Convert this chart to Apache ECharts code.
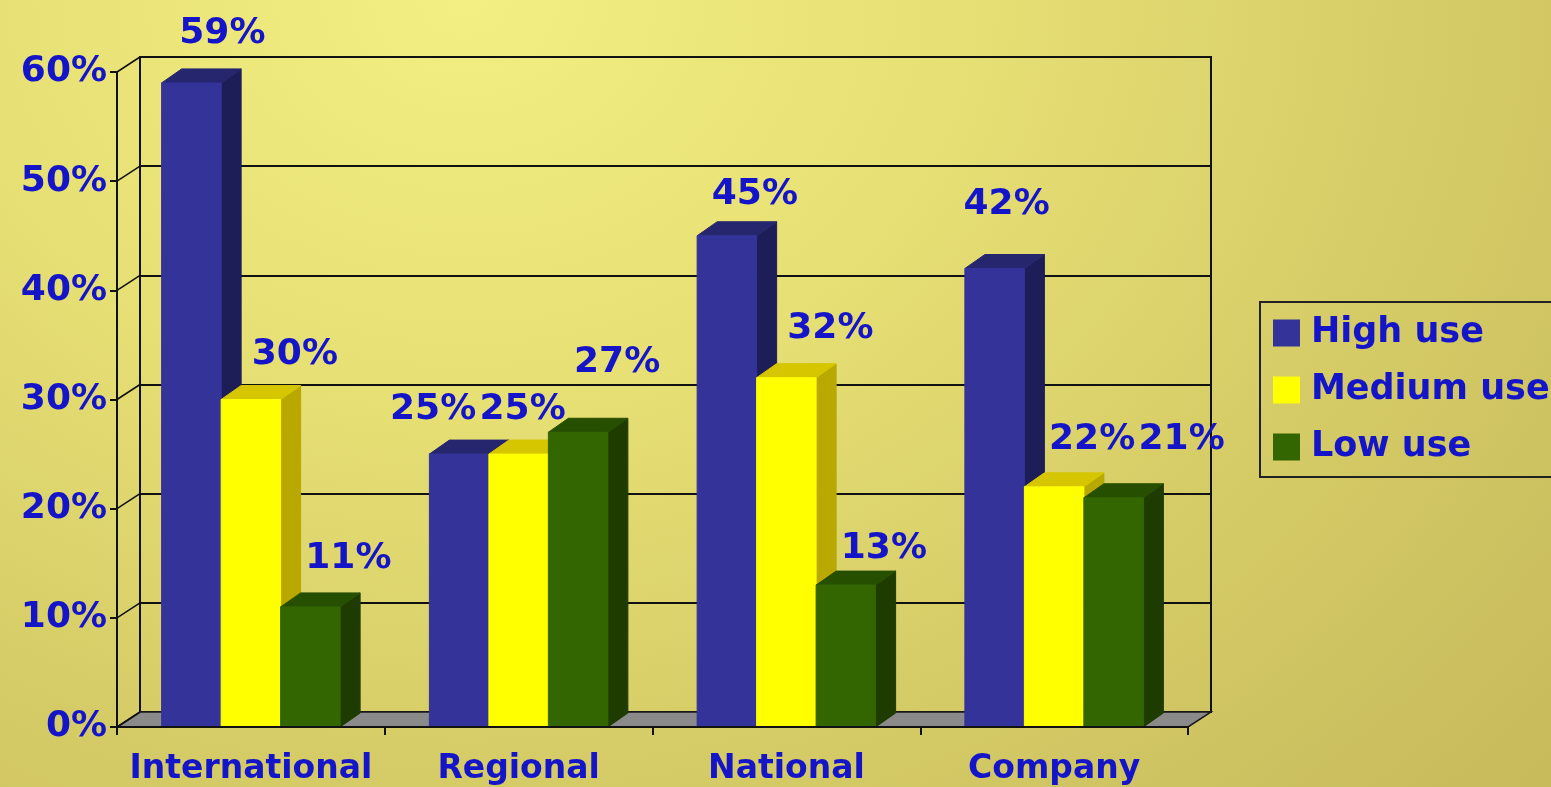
<!DOCTYPE html>
<html>
<head>
<meta charset="utf-8">
<script src="https://cdn.jsdelivr.net/npm/echarts@6/dist/echarts.min.js"></script>
<style>
  html, body { margin: 0; padding: 0; width: 1551px; height: 787px; overflow: hidden; }
  body { background: radial-gradient(ellipse 95% 150% at 30% 0%, #f3ef82 0%, #e6df74 35%, #d3c965 70%, #c6ba5b 100%); }
  #chart { width: 1551px; height: 787px; }
</style>
</head>
<body>
<div id="chart"></div>
<script>
// ---- data ----
const categories = ['International', 'Regional', 'National', 'Company'];
const seriesNames = ['High use', 'Medium use', 'Low use'];
const highUse = [59, 25, 45, 42];
const mediumUse = [30, 25, 32, 22];
const lowUse = [11, 27, 13, 21];
const yTickLabels = ['0%', '10%', '20%', '30%', '40%', '50%', '60%'];

// ---- look & layout ----
const TEXT_BLUE = '#1414c8';
const FONT = '"DejaVu Sans", sans-serif';
const WALL = { dx: 23, dy: 15 };      // depth of the back wall
const BAR_DEPTH = { dx: 20, dy: 14 };  // depth of each 3D bar
const BAR_FRACTION = 0.2222;           // bar width as share of a category band
const faces = [
  { front: '#333399', side: '#1d1d58', top: '#26266f' },
  { front: '#ffff00', side: '#b9a800', top: '#d6c600' },
  { front: '#336600', side: '#1e3b00', top: '#274f00' }
];
// where each value label sits, relative to the top-front centre of its bar
const labelNudge = [
  [[31, -49], [-26, -44], [28, -41], [12, -64]],
  [[44, -45], [4, -44], [44, -49], [38, -47]],
  [[38, -48], [39, -70], [38, -36], [68, -58]]
];

function face(fill) {
  // a hairline in the fill colour closes anti-aliasing seams between faces
  return { fill: fill, stroke: fill, lineWidth: 1 };
}

function barRenderer(s) {
  return function (params, api) {
    const ci = api.value(0);
    const v = api.value(1);
    const base = api.coord([ci, 0]);
    const top = api.coord([ci, v]);
    const band = api.size([1, 0])[0];
    const w = band * BAR_FRACTION;
    const x0 = base[0] - 1.5 * w + s * w;
    const x1 = x0 + w;
    const y0 = base[1];
    const y1 = top[1];
    const dx = BAR_DEPTH.dx, dy = BAR_DEPTH.dy;
    const n = labelNudge[s][ci];
    const f = faces[s];
    return {
      type: 'group',
      children: [
        { type: 'polygon', shape: { points: [[x1, y0], [x1 + dx, y0 - dy], [x1 + dx, y1 - dy], [x1, y1]] }, style: face(f.side) },
        { type: 'polygon', shape: { points: [[x0, y1], [x0 + dx, y1 - dy], [x1 + dx, y1 - dy], [x1, y1]] }, style: face(f.top) },
        { type: 'rect', shape: { x: x0, y: y1, width: w, height: y0 - y1 }, style: face(f.front) },
        {
          type: 'text', x: (x0 + x1) / 2 + n[0], y: y1 + n[1], z2: 10,
          style: { text: v + '%', fill: TEXT_BLUE, font: 'bold 36px ' + FONT, align: 'center', verticalAlign: 'middle' }
        }
      ]
    };
  };
}

// floor and the side-wall connectors between the front axis and the back wall
function wallRenderer(params, api) {
  const cs = params.coordSys;
  const L = cs.x, R = cs.x + cs.width, B = cs.y + cs.height;
  const children = [{
    type: 'polygon',
    shape: { points: [[L, B], [R, B], [R + WALL.dx, B - WALL.dy], [L + WALL.dx, B - WALL.dy]] },
    style: { fill: '#8a8a8a', stroke: '#1a1a1a', lineWidth: 1.5 }
  }];
  yTickLabels.forEach(function (_, i) {
    const y = api.coord([0, i * 10])[1];
    children.push({
      type: 'line',
      shape: { x1: L, y1: y, x2: L + WALL.dx, y2: y - WALL.dy },
      style: { stroke: '#111', lineWidth: 1.5 }
    });
  });
  return { type: 'group', children: children };
}

const seriesValues = [highUse, mediumUse, lowUse];

const chart = echarts.init(document.getElementById('chart'), null, { renderer: 'canvas' });
chart.setOption({
  backgroundColor: 'transparent',
  animation: false,
  grid: [
    { left: 117, top: 72, right: 363, bottom: 60, containLabel: false, outerBoundsMode: 'none' },
    { left: 117 + WALL.dx, top: 72 - WALL.dy, right: 363 - WALL.dx, bottom: 60 + WALL.dy, containLabel: false, outerBoundsMode: 'none',
      show: true, borderColor: '#111', borderWidth: 2, backgroundColor: 'transparent' }
  ],
  legend: {
    orient: 'vertical', left: 1260, top: 302,
    data: seriesNames, icon: 'rect', itemWidth: 27, itemHeight: 27, itemGap: 17,
    padding: [11, 6, 10, 13], borderColor: '#222', borderWidth: 2,
    textStyle: { color: TEXT_BLUE, fontSize: 35, fontWeight: 'bold', fontFamily: FONT, lineHeight: 40, padding: [0, 0, 0, 6] }
  },
  xAxis: [
    {
      gridIndex: 0, type: 'category', data: categories, z: 3,
      axisLine: { show: true, lineStyle: { color: '#111', width: 2 } },
      axisTick: { show: true, interval: 0, length: 8, lineStyle: { color: '#111', width: 2 } },
      axisLabel: { interval: 0, hideOverlap: false, margin: 26, color: TEXT_BLUE, fontSize: 33, fontWeight: 'bold', fontFamily: FONT }
    },
    { gridIndex: 1, type: 'category', data: categories, show: false }
  ],
  yAxis: [
    {
      gridIndex: 0, type: 'value', min: 0, max: 60, interval: 10,
      axisLine: { show: true, lineStyle: { color: '#111', width: 2 } },
      axisTick: { show: true, length: 7, lineStyle: { color: '#111', width: 2 } },
      splitLine: { show: false },
      axisLabel: {
        margin: 10, color: TEXT_BLUE, fontSize: 36, fontWeight: 'bold', fontFamily: FONT,
        formatter: function (val) { return yTickLabels[Math.round(val / 10)]; }
      }
    },
    {
      gridIndex: 1, type: 'value', min: 0, max: 60, interval: 10,
      axisLine: { show: false }, axisTick: { show: false }, axisLabel: { show: false },
      splitLine: { show: true, lineStyle: { color: '#111', width: 2 } }
    }
  ],
  series: [
    { type: 'custom', name: 'walls', xAxisIndex: 0, yAxisIndex: 0, z: 1, silent: true, data: [[0, 0]], renderItem: wallRenderer }
  ].concat(seriesNames.map(function (name, s) {
    return {
      type: 'custom', name: name, xAxisIndex: 0, yAxisIndex: 0, z: 2, silent: true,
      itemStyle: { color: faces[s].front },
      encode: { x: 0, y: 1 },
      data: seriesValues[s].map(function (v, i) { return [i, v]; }),
      renderItem: barRenderer(s)
    };
  }))
});
</script>
</body>
</html>
